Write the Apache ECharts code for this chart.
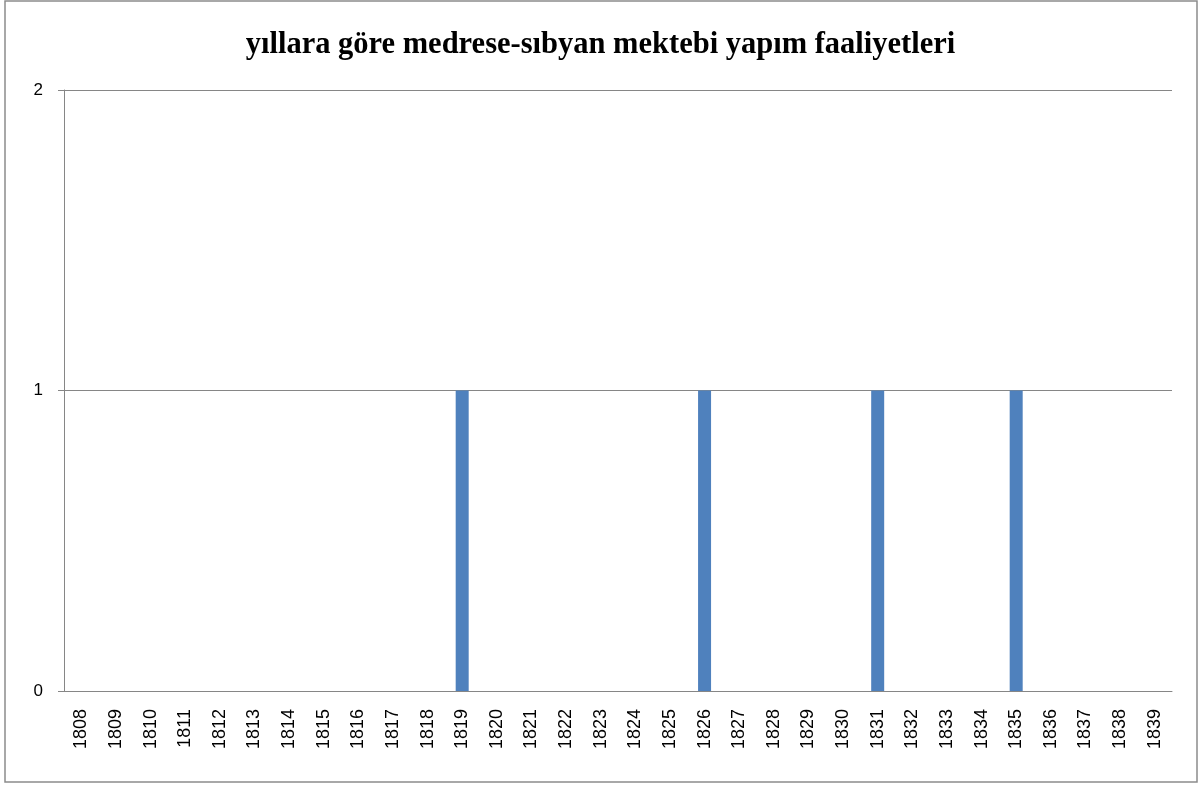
<!DOCTYPE html>
<html>
<head>
<meta charset="utf-8">
<script src="https://cdn.jsdelivr.net/npm/echarts@6/dist/echarts.min.js"></script>
<style>
  html, body { margin: 0; padding: 0; background: #fff; }
  #chart { width: 1201px; height: 786px; }
</style>
</head>
<body>
<div id="chart"></div>
<script>
var years = [];
for (var y = 1808; y <= 1839; y++) years.push(String(y));
// 1819, 1826, 1831, 1835 had one building each
var counts = [0,0,0,0,0,0,0,0,0,0,0,1,0,0,0,0,0,0,1,0,0,0,0,1,0,0,0,1,0,0,0,0];
var yTicks = [0, 1, 2];

var chart = echarts.init(document.getElementById('chart'));
var option = {
  animation: false,
  backgroundColor: '#fff',
  title: {
    text: 'yıllara göre medrese-sıbyan mektebi yapım faaliyetleri',
    left: 'center',
    top: 25,
    textStyle: {
      fontFamily: 'Liberation Serif',
      fontWeight: 'bold',
      fontSize: 30.5,
      color: '#000'
    }
  },
  graphic: [{
    type: 'rect',
    shape: { x: 5, y: 1, width: 1192, height: 781 },
    style: { fill: 'none', stroke: '#8c8c8c', lineWidth: 1.5 },
    silent: true
  }],
  grid: { left: 64, right: 29, top: 90, bottom: 95 },
  xAxis: {
    type: 'category',
    data: years,
    axisLine: { lineStyle: { color: '#868686' } },
    axisTick: { length: 6, lineStyle: { color: '#868686' } },
    axisLabel: {
      rotate: 90,
      interval: 0,
      margin: 18,
      fontFamily: 'Liberation Sans',
      fontSize: 18,
      color: '#000'
    }
  },
  yAxis: {
    type: 'value',
    min: 0,
    max: yTicks[yTicks.length - 1],
    interval: 1,
    axisLine: { show: true, lineStyle: { color: '#868686' } },
    axisTick: { show: true, length: 6, lineStyle: { color: '#868686' } },
    splitLine: { lineStyle: { color: '#868686' } },
    axisLabel: {
      margin: 21,
      fontFamily: 'Liberation Sans',
      fontSize: 17,
      color: '#000'
    }
  },
  series: [{
    type: 'bar',
    data: counts,
    barWidth: 13,
    itemStyle: { color: '#4F81BD' }
  }]
};
chart.setOption(option);
</script>
</body>
</html>
